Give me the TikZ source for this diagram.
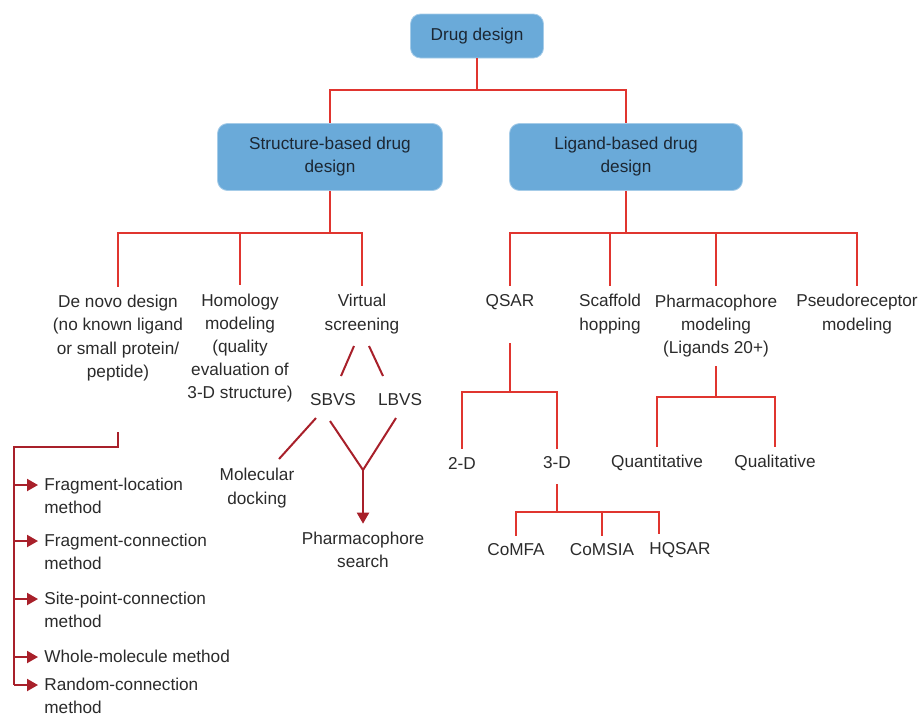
\documentclass[tikz,border=0pt]{standalone}
\usepackage{fontspec}
\setmainfont{Liberation Sans}
\usetikzlibrary{arrows.meta}
\definecolor{boxblue}{HTML}{6AAAD9}
\definecolor{linered}{HTML}{E0352F}
\definecolor{darkred}{HTML}{A8202A}
\definecolor{txtgray}{HTML}{2B2B2B}
\definecolor{boxtext}{HTML}{1C2733}

\begin{document}
\begin{tikzpicture}[x=0.5pt, y=-0.5pt,
    box/.style={draw=boxblue!60!white, fill=boxblue, rounded corners=5pt, align=center,
        text=boxtext, font=\fontsize{8.6}{11.5}\selectfont},
    lbl/.style={align=center, inner sep=4pt, text=txtgray, font=\fontsize{8.6}{11.6}\selectfont},
    meth/.style={align=left, anchor=north west, inner sep=0pt, text=txtgray, font=\fontsize{8.6}{11.2}\selectfont},
    tree/.style={linered, line width=1pt},
    vs/.style={darkred, line width=1pt},
    arr/.style={darkred, line width=1pt, -{Triangle[length=5.5pt, width=6pt]}}]
    \useasboundingbox (0,0) rectangle (919,718);

    % boxes
    \node[box, minimum width=66.5pt, minimum height=22pt] (dd) at (477,36) {Drug design};
    \node[box, minimum width=112.5pt, minimum height=33.5pt] (sb) at (330,157) {Structure-based drug\\design};
    \node[box, minimum width=116.5pt, minimum height=33.5pt] (lb) at (626,157) {Ligand-based drug\\design};

    % structure-based branch
    \node[lbl] (denovo) at (118,338) {De novo design\\(no known ligand\\or small protein/\\peptide)};
    \node[lbl] (homol) at (240,348) {Homology\\modeling\\(quality\\evaluation of\\3-D structure)};
    \node[lbl] (virt) at (362,314) {Virtual\\screening};
    \node[lbl] (sbvs) at (333,400) {SBVS};
    \node[lbl] (lbvs) at (400,400) {LBVS};
    \node[lbl] (dock) at (257,488) {Molecular\\docking};
    \node[lbl] (phs) at (363,550) {Pharmacophore\\search};

    % ligand-based branch
    \node[lbl] (qsar) at (510,302) {QSAR};
    \node[lbl] (scaf) at (610,314) {Scaffold\\hopping};
    \node[lbl] (phm) at (716,326) {Pharmacophore\\modeling\\(Ligands 20+)};
    \node[lbl] (pseudo) at (857,314) {Pseudoreceptor\\modeling};
    \node[lbl] (twod) at (462,463) {2-D};
    \node[lbl] (threed) at (557,463) {3-D};
    \node[lbl] (quant) at (657,463) {Quantitative};
    \node[lbl] (qual) at (775,463) {Qualitative};
    \node[lbl] (comfa) at (516,550) {CoMFA};
    \node[lbl] (comsia) at (602,550) {CoMSIA};
    \node[lbl] (hqsar) at (680,550) {HQSAR};

    % de novo methods
    \node[meth] (floc) at (44,478) {Fragment-location\\method};
    \node[meth] (fcon) at (44,534) {Fragment-connection\\method};
    \node[meth] (spc) at (44,592) {Site-point-connection\\method};
    \node[meth] (whole) at (44,650) {Whole-molecule method};
    \node[meth] (rand) at (44,678) {Random-connection\\method};

    % junctions
    \coordinate (j0) at (477,90);
    \coordinate (j1) at (330,233);
    \coordinate (j2) at (626,233);
    \coordinate (jq) at (510,392);
    \coordinate (jq0) at (510,343);
    \coordinate (j3) at (557,512);
    \coordinate (j30) at (557,484);
    \coordinate (jp) at (716,397);
    \coordinate (jp0) at (716,366);
    \coordinate (jd) at (118,432);
    \coordinate (spine) at (14,447);
    \coordinate (jy) at (363,470);

    % tree connectors
    \draw[tree] (dd) -- (j0);
    \draw[tree] (j0) -| (sb);
    \draw[tree] (j0) -| (lb);
    \draw[tree] (sb) -- (j1);
    \draw[tree] (j1) -| (denovo);
    \draw[tree] (j1) -| (homol);
    \draw[tree] (j1) -| (virt);
    \draw[tree] (lb) -- (j2);
    \draw[tree] (j2) -| (qsar);
    \draw[tree] (j2) -| (scaf);
    \draw[tree] (j2) -| (phm);
    \draw[tree] (j2) -| (pseudo);
    \draw[tree] (jq0) -- (jq);
    \draw[tree] (jq) -| (twod);
    \draw[tree] (jq) -| (threed);
    \draw[tree] (j30) -- (j3);
    \draw[tree] (j3) -| (comfa);
    \draw[tree] (j3) -| (comsia);
    \draw[tree] (j3) -| ([xshift=-10.5pt]hqsar.north);
    \draw[tree] (jp0) -- (jp);
    \draw[tree] (jp) -| (quant);
    \draw[tree] (jp) -| (qual);

    % virtual screening
    \draw[vs] (354,346) -- (341,376);
    \draw[vs] (369,346) -- (383,376);
    \draw[vs] (316,418) -- (279,459);
    \draw[vs] (330,421) -- (jy);
    \draw[vs] (396,418) -- (jy);
    \draw[arr] (jy) -- (phs);

    % de novo methods
    \draw[vs] (jd) |- (spine) -- (14,685);
    \draw[arr] (14,485) -- ([xshift=-3pt, yshift=-3.5pt]floc.north west);
    \draw[arr] (14,541) -- ([xshift=-3pt, yshift=-3.5pt]fcon.north west);
    \draw[arr] (14,599) -- ([xshift=-3pt, yshift=-3.5pt]spc.north west);
    \draw[arr] (14,657) -- ([xshift=-3pt, yshift=-3.5pt]whole.north west);
    \draw[arr] (14,685) -- ([xshift=-3pt, yshift=-3.5pt]rand.north west);
\end{tikzpicture}
\end{document}
